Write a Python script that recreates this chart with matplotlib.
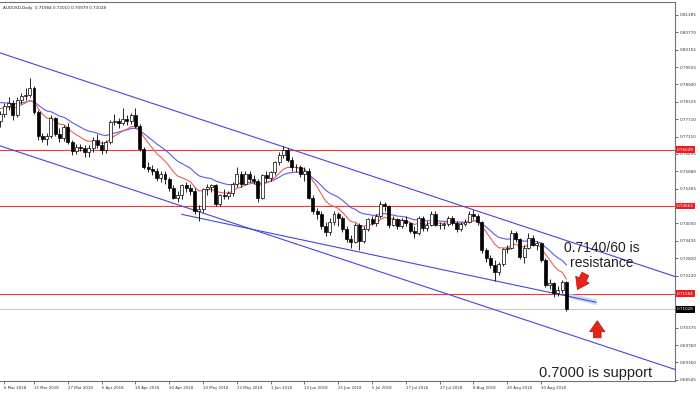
import numpy as np
import pandas as pd
import matplotlib.pyplot as plt

symbol = 'AUDUSD,Daily'

# closes before the visible window (12 Feb - 2 Mar 2018), only used to start the averages
warmup_closes = [0.7850, 0.7880, 0.7900, 0.7945, 0.7920, 0.7890, 0.7850, 0.7830,
                 0.7850, 0.7850, 0.7860, 0.7830, 0.7770, 0.7750, 0.7765]

first_day = '2018-03-05'
opens = [0.7765, 0.7790, 0.7820, 0.7830, 0.7787, 0.7840, 0.7855, 0.7858, 0.7880, 0.7797,
         0.7712, 0.7702, 0.7712, 0.7775, 0.7720, 0.7705, 0.7745, 0.7690, 0.7660, 0.7675,
         0.7670, 0.7655, 0.7672, 0.7700, 0.7680, 0.7665, 0.7690, 0.7762, 0.7765, 0.7758,
         0.7772, 0.7765, 0.7788, 0.7748, 0.7668, 0.7605, 0.7598, 0.7590, 0.7565, 0.7580,
         0.7560, 0.7530, 0.7495, 0.7505, 0.7540, 0.7530, 0.7520, 0.7450, 0.7455, 0.7525,
         0.7535, 0.7540, 0.7475, 0.7505, 0.7500, 0.7512, 0.7545, 0.7580, 0.7545, 0.7580,
         0.7560, 0.7555, 0.7495, 0.7575, 0.7565, 0.7585, 0.7620, 0.7645, 0.7665, 0.7630,
         0.7605, 0.7602, 0.7580, 0.7590, 0.7495, 0.7450, 0.7440, 0.7395, 0.7375, 0.7410,
         0.7440, 0.7425, 0.7385, 0.7350, 0.7340, 0.7400, 0.7345, 0.7385, 0.7420, 0.7405,
         0.7430, 0.7475, 0.7465, 0.7400, 0.7420, 0.7395, 0.7418, 0.7405, 0.7380, 0.7370,
         0.7425, 0.7390, 0.7400, 0.7440, 0.7400, 0.7398, 0.7402, 0.7425, 0.7408, 0.7385,
         0.7402, 0.7410, 0.7440, 0.7432, 0.7410, 0.7310, 0.7285, 0.7260, 0.7235, 0.7262,
         0.7315, 0.7320, 0.7370, 0.7350, 0.7288, 0.7320, 0.7355, 0.7330, 0.7335, 0.7278,
         0.7190, 0.7195, 0.7160, 0.7170, 0.71984]
highs = [0.7800, 0.7830, 0.7850, 0.7840, 0.7850, 0.7865, 0.7880, 0.7917, 0.7888, 0.7805,
         0.7725, 0.7722, 0.7785, 0.7780, 0.7740, 0.7750, 0.7760, 0.7700, 0.7685, 0.7685,
         0.7680, 0.7680, 0.7710, 0.7720, 0.7695, 0.7700, 0.7770, 0.7790, 0.7775, 0.7810,
         0.7785, 0.7795, 0.7813, 0.7755, 0.7675, 0.7620, 0.7610, 0.7600, 0.7590, 0.7590,
         0.7570, 0.7540, 0.7520, 0.7545, 0.7550, 0.7545, 0.7530, 0.7470, 0.7530, 0.7545,
         0.7545, 0.7545, 0.7510, 0.7525, 0.7520, 0.7550, 0.7605, 0.7590, 0.7590, 0.7590,
         0.7575, 0.7560, 0.7580, 0.7590, 0.7590, 0.7625, 0.7655, 0.7677, 0.7670, 0.7640,
         0.7615, 0.7610, 0.7605, 0.7600, 0.7505, 0.7460, 0.7450, 0.7410, 0.7425, 0.7450,
         0.7445, 0.7430, 0.7395, 0.7365, 0.7405, 0.7405, 0.7395, 0.7425, 0.7430, 0.7440,
         0.7484, 0.7480, 0.7470, 0.7430, 0.7425, 0.7425, 0.7430, 0.7410, 0.7395, 0.7430,
         0.7430, 0.7415, 0.7450, 0.7450, 0.7410, 0.7410, 0.7430, 0.7430, 0.7415, 0.7410,
         0.7420, 0.7450, 0.7453, 0.7440, 0.7415, 0.7320, 0.7295, 0.7275, 0.7270, 0.7320,
         0.7330, 0.7382, 0.7380, 0.7355, 0.7330, 0.7370, 0.7365, 0.7345, 0.7340, 0.7285,
         0.7210, 0.7200, 0.7185, 0.7205, 0.72010]
lows = [0.7745, 0.7780, 0.7805, 0.7770, 0.7780, 0.7825, 0.7840, 0.7850, 0.7790, 0.7700,
        0.7690, 0.7680, 0.7705, 0.7712, 0.7690, 0.7695, 0.7685, 0.7645, 0.7650, 0.7660,
        0.7640, 0.7640, 0.7655, 0.7670, 0.7650, 0.7652, 0.7685, 0.7750, 0.7740, 0.7750,
        0.7750, 0.7755, 0.7740, 0.7660, 0.7595, 0.7585, 0.7575, 0.7555, 0.7550, 0.7545,
        0.7520, 0.7490, 0.7480, 0.7490, 0.7515, 0.7505, 0.7440, 0.7413, 0.7445, 0.7505,
        0.7515, 0.7465, 0.7465, 0.7490, 0.7490, 0.7500, 0.7535, 0.7535, 0.7540, 0.7550,
        0.7545, 0.7480, 0.7490, 0.7550, 0.7555, 0.7575, 0.7610, 0.7635, 0.7620, 0.7590,
        0.7585, 0.7570, 0.7555, 0.7490, 0.7440, 0.7420, 0.7385, 0.7360, 0.7365, 0.7400,
        0.7395, 0.7375, 0.7340, 0.7320, 0.7335, 0.7310, 0.7335, 0.7380, 0.7400, 0.7395,
        0.7425, 0.7450, 0.7390, 0.7395, 0.7385, 0.7390, 0.7395, 0.7370, 0.7355, 0.7365,
        0.7380, 0.7380, 0.7395, 0.7395, 0.7385, 0.7385, 0.7395, 0.7400, 0.7375, 0.7380,
        0.7395, 0.7405, 0.7420, 0.7400, 0.7300, 0.7270, 0.7250, 0.7202, 0.7225, 0.7255,
        0.7300, 0.7315, 0.7340, 0.7280, 0.7265, 0.7315, 0.7325, 0.7310, 0.7270, 0.7180,
        0.7175, 0.7145, 0.7150, 0.7160, 0.70979]
closes = [0.7790, 0.7820, 0.7830, 0.7787, 0.7840, 0.7855, 0.7858, 0.7882, 0.7797, 0.7712,
          0.7702, 0.7712, 0.7775, 0.7720, 0.7705, 0.7745, 0.7690, 0.7660, 0.7675, 0.7670,
          0.7655, 0.7672, 0.7700, 0.7680, 0.7665, 0.7690, 0.7762, 0.7765, 0.7758, 0.7772,
          0.7765, 0.7788, 0.7748, 0.7668, 0.7605, 0.7598, 0.7590, 0.7565, 0.7580, 0.7560,
          0.7530, 0.7495, 0.7505, 0.7540, 0.7530, 0.7520, 0.7450, 0.7455, 0.7525, 0.7535,
          0.7540, 0.7475, 0.7505, 0.7500, 0.7512, 0.7545, 0.7580, 0.7545, 0.7580, 0.7560,
          0.7555, 0.7495, 0.7575, 0.7565, 0.7585, 0.7620, 0.7645, 0.7665, 0.7630, 0.7605,
          0.7602, 0.7580, 0.7590, 0.7495, 0.7450, 0.7440, 0.7395, 0.7375, 0.7410, 0.7440,
          0.7425, 0.7385, 0.7350, 0.7340, 0.7400, 0.7345, 0.7385, 0.7420, 0.7405, 0.7430,
          0.7475, 0.7465, 0.7400, 0.7420, 0.7395, 0.7418, 0.7405, 0.7380, 0.7370, 0.7425,
          0.7390, 0.7400, 0.7440, 0.7400, 0.7398, 0.7402, 0.7425, 0.7408, 0.7385, 0.7402,
          0.7410, 0.7440, 0.7432, 0.7410, 0.7310, 0.7285, 0.7260, 0.7235, 0.7262, 0.7315,
          0.7320, 0.7370, 0.7350, 0.7288, 0.7320, 0.7355, 0.7330, 0.7335, 0.7278, 0.7190,
          0.7195, 0.7160, 0.7170, 0.7198, 0.71028]

date_labels = ['6 Mar 2018', '15 Mar 2018', '27 Mar 2018', '6 Apr 2018', '18 Apr 2018',
               '30 Apr 2018', '10 May 2018', '22 May 2018', '1 Jun 2018', '13 Jun 2018',
               '25 Jun 2018', '5 Jul 2018', '17 Jul 2018', '27 Jul 2018', '8 Aug 2018',
               '20 Aug 2018', '30 Aug 2018']
price_ticks = [0.81385, 0.80770, 0.80155, 0.79555, 0.78940, 0.78325, 0.77710, 0.77110,
               0.76495, 0.75880, 0.75265, 0.74050, 0.73435, 0.72820, 0.72220, 0.70375,
               0.69760, 0.69160, 0.68545]
levels = [0.76649, 0.74663, 0.71584]

upper_channel = [('2018-03-05', 0.8005), ('2018-06-06', 0.7675)]
lower_channel = [('2018-03-05', 0.7678), ('2018-06-06', 0.7348)]
support_line = [('2018-05-03', 0.7437), ('2018-09-18', 0.7128)]

resist_text = '0.7140/60 is\nresistance'
support_text = '0.7000 is support'


def pos(d):
    # trading-day position, 6 Mar 2018 = 0
    return np.busday_count('2018-03-06', np.datetime64(pd.Timestamp(d).date()))


dates = pd.bdate_range(first_day, periods=len(closes))
x = np.array([pos(d) for d in dates])
o = np.array(opens); h = np.array(highs); l = np.array(lows); c = np.array(closes)

all_closes = pd.Series(warmup_closes + closes)
ema_fast = all_closes.ewm(span=10, adjust=False).mean().values[len(warmup_closes):]
ema_slow = all_closes.ewm(span=20, adjust=False).mean().values[len(warmup_closes):]

fig = plt.figure(figsize=(7, 3.93), dpi=100)
ax = fig.add_axes([0, 1 - 381 / 393, 675 / 700, 379 / 393])
x_lo, x_hi = -1.05, 158.7
ax.set_xlim(x_lo, x_hi)
ax.set_ylim(0.68509, 0.81842)

# horizontal levels and current price line
for lv in levels:
    ax.axhline(lv, color='#f03a3a', lw=0.8, zorder=1)
ax.axhline(c[-1], color='#c8c8c8', lw=0.8, zorder=1)


def draw_line(anchors, x0, x1, **kw):
    xa = [pos(anchors[0][0]), pos(anchors[1][0])]
    ya = [anchors[0][1], anchors[1][1]]
    k = (ya[1] - ya[0]) / (xa[1] - xa[0])
    xs = np.array([x0, x1])
    ax.plot(xs, ya[0] + k * (xs - xa[0]), **kw)
    return k, xa[0], ya[0]


chan_kw = dict(color='#4646dc', lw=0.8, zorder=2)
draw_line(upper_channel, x_lo, x_hi, **chan_kw)
draw_line(lower_channel, x_lo, x_hi, **chan_kw)
k, xs0, ys0 = draw_line(support_line, pos(support_line[0][0]), pos(support_line[1][0]), **chan_kw)

# pale highlight at the end of the support line
xe = np.linspace(x[-1] + 0.5, pos(support_line[1][0]), 10)
ye = ys0 + k * (xe - xs0)
ax.fill_between(xe, ye - 0.0004 - (xe - xe[0]) * 0.00008, ye + 0.0012, color='#bcd8f2', alpha=0.8, lw=0, zorder=1.5)

# moving averages
ax.plot(x, ema_slow, color='#5c5ce6', lw=0.8, zorder=3)
ax.plot(x, ema_fast, color='#e8605a', lw=0.8, zorder=3)

# candles
ax.vlines(x, l, h, color='black', lw=0.6, zorder=4)
up = c >= o
ax.bar(x[up], c[up] - o[up], bottom=o[up], width=0.7, color='white', edgecolor='black', lw=0.5, zorder=5)
ax.bar(x[~up], o[~up] - c[~up], bottom=c[~up], width=0.7, color='black', edgecolor='black', lw=0.5, zorder=5)

# axes styling
ax.spines['left'].set_visible(False)
for side in ['right', 'bottom', 'top']:
    ax.spines[side].set_color('#707070')
    ax.spines[side].set_linewidth(0.8)
ax.yaxis.tick_right()
ax.set_yticks(price_ticks)
ax.set_yticklabels([f'{v:.5f}' for v in price_ticks])
ax.tick_params(axis='y', length=2, width=0.5, labelsize=3, pad=1.5, colors='#333333')
label_pos = [pos(pd.to_datetime(s, format='%d %b %Y')) for s in date_labels]
ax.set_xticks(label_pos)
ax.set_xticklabels(date_labels, ha='left')
ax.tick_params(axis='x', length=2, width=0.5, labelsize=2.8, pad=1.5, colors='#333333')

for lv in levels:
    ax.text(1.003, lv, f'{lv:.5f}', transform=ax.get_yaxis_transform(), ha='left', va='center',
            fontsize=3, color='white', clip_on=False,
            bbox=dict(boxstyle='square,pad=0.3', fc='#ee1c1c', ec='none'))
ax.text(1.003, c[-1], f'{c[-1]:.5f}', transform=ax.get_yaxis_transform(), ha='left', va='center',
        fontsize=3, color='white', clip_on=False,
        bbox=dict(boxstyle='square,pad=0.3', fc='black', ec='none'))

fig.text(3 / 700, 1 - 8 / 393, f'{symbol}  {o[-1]:.5f} {h[-1]:.5f} {l[-1]:.5f} {c[-1]:.5f}',
         fontsize=3, color='#222222', va='center')

# annotations
ax.text(141.3, 0.7292, resist_text, ha='center', va='center', fontsize=10, color='#222222',
        family='Liberation Sans', linespacing=1.05)
ax.text(140.0, 0.6880, support_text, ha='center', va='center', fontsize=10.5, color='#222222',
        family='Liberation Sans')
arrow = dict(arrowstyle='simple,head_length=0.8,head_width=1.1,tail_width=0.55',
             fc='#e82418', ec='#b01010', lw=0.5, mutation_scale=10)
ax.annotate('', xy=(135.3, 0.7164), xytext=(137.8, 0.7236), arrowprops=arrow)
ax.annotate('', xy=(140.3, 0.7073), xytext=(140.3, 0.6993), arrowprops=arrow)

fig.savefig('out.png', dpi=100)
